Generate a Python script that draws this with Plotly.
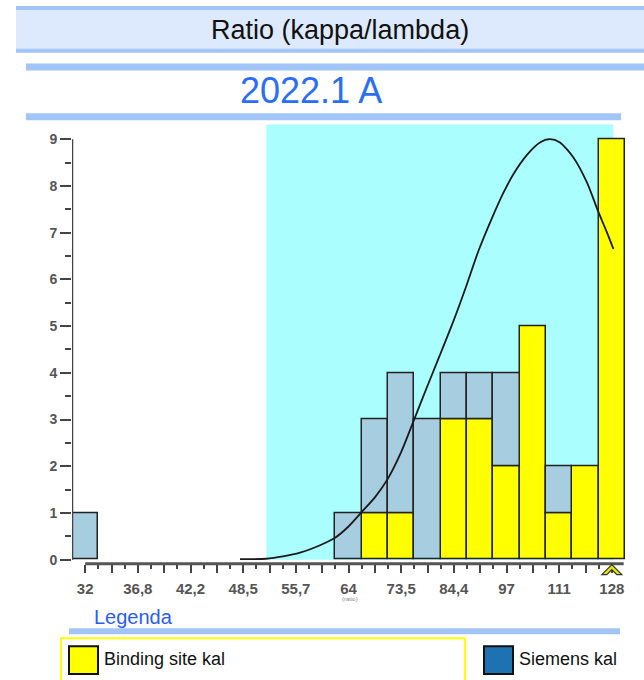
import plotly.graph_objects as go

# ---------------- data ----------------
# bin positions (index along log2 ratio axis, one bin = 1/10 octave)
bin_index = list(range(21))
tick_labels = ["32", "", "36,8", "", "42,2", "", "48,5", "", "55,7", "", "64",
               "", "73,5", "", "84,4", "", "97", "", "111", "", "128"]
binding_site = [0, 0, 0, 0, 0, 0, 0, 0, 0, 0, 0, 1, 1, 0, 3, 3, 2, 5, 1, 2, 9]
siemens = [1, 0, 0, 0, 0, 0, 0, 0, 0, 0, 1, 2, 3, 3, 1, 1, 2, 0, 1, 0, 0]

curve_x = [5.88, 6.87, 7.51, 8.16, 8.92, 9.49, 9.98, 10.50, 11.01, 11.49, 12.02,
           12.50, 12.97, 13.45, 13.98, 14.45, 14.93, 15.44, 15.88, 16.26, 16.77,
           17.27, 17.65, 18.03, 18.54, 19.05, 19.47, 19.81, 20.06]
curve_y = [0.01, 0.02, 0.07, 0.15, 0.31, 0.47, 0.70, 1.02, 1.34, 1.73, 2.33,
           3.01, 3.68, 4.35, 5.10, 5.82, 6.60, 7.30, 7.85, 8.25, 8.66,
           8.93, 9.00, 8.93, 8.61, 8.08, 7.47, 7.01, 6.65]

target_range = [6.88, 20.06]   # cyan acceptance band (bin-index units)
target_mark = 20               # ^ marker position

W, H = 644, 680


def px(p):
    return p / W


def py(p):
    return 1 - p / H


bx = [k for k, v in zip(bin_index, binding_site) if v > 0]
bv = [v for v in binding_site if v > 0]
sx = [k for k, v in zip(bin_index, siemens) if v > 0]
sv = [v for v in siemens if v > 0]
sb = [binding_site[k] for k in sx]

fig = go.Figure()
fig.add_trace(go.Bar(x=bx, y=bv, width=1, marker=dict(color="#ffff00", line=dict(color="#222", width=1.5)),
                     name="Binding site kal"))
fig.add_trace(go.Bar(x=sx, y=sv, base=sb, width=1, marker=dict(color="#a6cde0", line=dict(color="#222", width=1.5)),
                     name="Siemens kal"))
fig.add_trace(go.Scatter(x=curve_x, y=curve_y, mode="lines",
                         line=dict(color="#1a1a1a", width=1.8, shape="spline", smoothing=0.7),
                         hoverinfo="skip"))

shapes = []
shapes.append(dict(type="rect", xref="x", yref="y", x0=target_range[0], x1=target_range[1], y0=0, y1=9.319,
                   fillcolor="#abfefe", line=dict(width=0), layer="below"))
shapes.append(dict(type="line", xref="x", yref="y", x0=-0.5, x1=-0.5, y0=0, y1=9,
                   line=dict(color="#444", width=2.5)))
shapes.append(dict(type="line", xref="x", yref="paper", x0=0, x1=20.45, y0=py(567), y1=py(567),
                   line=dict(color="#555", width=3)))
shapes.append(dict(type="path", xref="x", yref="paper", xsizemode="pixel", ysizemode="pixel",
                   xanchor=target_mark, yanchor=py(567),
                   path="M -10,-11 L 0,-1 L 10,-11 L 5,-11 L 0,-6 L -5,-11 Z",
                   fillcolor="#e8e800", line=dict(color="#333", width=1.2)))

shapes.append(dict(type="rect", xref="paper", yref="paper", x0=px(16), x1=1, y0=py(53), y1=py(6),
                   fillcolor="#dde9fc", line=dict(width=0)))
for (y0, y1, x0, x1) in [(6, 10, 16, 644), (49, 53, 16, 644), (64, 71, 26, 644), (114, 121, 26, 621),
                         (632, 638, 69, 620)]:
    shapes.append(dict(type="rect", xref="paper", yref="paper", x0=px(x0), x1=px(x1), y0=py(y1), y1=py(y0),
                       fillcolor="#a2c5f8", line=dict(width=0)))
shapes.append(dict(type="rect", xref="paper", yref="paper", x0=px(61), x1=px(465), y0=py(700), y1=py(642),
                   fillcolor="rgba(0,0,0,0)", line=dict(color="#ffff00", width=2)))
shapes.append(dict(type="rect", xref="paper", yref="paper", x0=px(69), x1=px(98), y0=py(678), y1=py(650),
                   fillcolor="#ffff00", line=dict(color="#111", width=2)))
shapes.append(dict(type="rect", xref="paper", yref="paper", x0=px(484), x1=px(513), y0=py(678), y1=py(650),
                   fillcolor="#1f72b1", line=dict(color="#111", width=2)))

font = "Arial, Liberation Sans, sans-serif"
annotations = [
    dict(text="Ratio (kappa/lambda)", x=px(340), y=py(30), xref="paper", yref="paper", showarrow=False,
         font=dict(family=font, size=27, color="#111"), xanchor="center", yanchor="middle"),
    dict(text="2022.1 A", x=px(311), y=py(91), xref="paper", yref="paper", showarrow=False,
         font=dict(family=font, size=36, color="#2a6ef5"), xanchor="center", yanchor="middle"),
    dict(text="Legenda", x=px(92), y=py(621), xref="paper", yref="paper", showarrow=False,
         font=dict(family=font, size=20, color="#2a5cf8"), xanchor="left", yanchor="middle"),
    dict(text="Binding site kal", x=px(102), y=py(663), xref="paper", yref="paper", showarrow=False,
         font=dict(family=font, size=18, color="#111"), xanchor="left", yanchor="middle"),
    dict(text="Siemens kal", x=px(517), y=py(663), xref="paper", yref="paper", showarrow=False,
         font=dict(family=font, size=18, color="#111"), xanchor="left", yanchor="middle"),
    dict(text="(ratio)", x=px(350), y=py(603), xref="paper", yref="paper", showarrow=False,
         font=dict(family=font, size=6, color="#888"), xanchor="center", yanchor="middle"),
]

fig.update_layout(
    width=W, height=H, autosize=False,
    margin=dict(l=0, r=0, t=0, b=0),
    paper_bgcolor="white", plot_bgcolor="rgba(0,0,0,0)",
    barmode="overlay", showlegend=False, bargap=0,
    shapes=shapes, annotations=annotations,
    xaxis=dict(domain=[72 / W, 625 / W], range=[-0.5, 20.5], showgrid=False, zeroline=False, showline=False,
               tickmode="array", tickvals=bin_index, ticktext=tick_labels,
               ticks="outside", ticklen=8, tickwidth=2, tickcolor="#444",
               ticklabelstandoff=3,
               tickfont=dict(family=font, size=15, color="#555", weight="bold"),
               minor=dict(tickmode="array", tickvals=[k + 0.5 for k in bin_index[:-1]], ticks="outside",
                          ticklen=4, tickwidth=2, tickcolor="#444")),
    yaxis=dict(domain=[(H - 567) / H, (H - 125) / H], range=[-0.085, 9.319], showgrid=False, zeroline=False,
               showline=False, tickmode="array", tickvals=list(range(10)),
               ticks="outside", ticklen=11, tickwidth=2, tickcolor="#444",
               tickfont=dict(family=font, size=14, color="#555", weight="bold"),
               minor=dict(tickmode="array", tickvals=[k + 0.5 for k in range(9)], ticks="outside",
                          ticklen=6, tickwidth=2, tickcolor="#444")),
)

fig.write_html("out.html")
